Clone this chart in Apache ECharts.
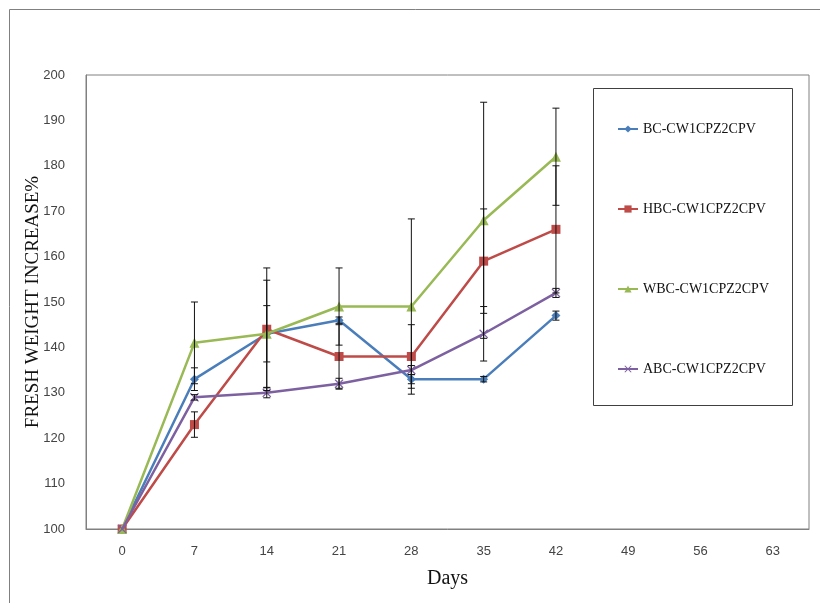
<!DOCTYPE html>
<html><head><meta charset="utf-8">
<script src="https://cdn.jsdelivr.net/npm/echarts@6/dist/echarts.min.js"></script>
<style>html,body{margin:0;padding:0;background:#fff}#c{width:820px;height:603px}</style>
</head><body><div id="c"></div>
<script>
const days = ['0','7','14','21','28','35','42','49','56','63'];
const yTicks = [100,110,120,130,140,150,160,170,180,190,200];
const seriesNames = ['BC-CW1CPZ2CPV','HBC-CW1CPZ2CPV','WBC-CW1CPZ2CPV','ABC-CW1CPZ2CPV'];
const bc  = [100,133,143,146,133,133,147];
const hbc = [100,123,144,138,138,159,166];
const wbc = [100,141,143,149,149,168,182];
const abc = [100,129,130,132,135,143,152];
const bcErr  = [0,2.5,6.2,0.7,1,0.6,1];
const hbcErr = [0,2.8,13.5,7,7,11.5,14];
const wbcErr = [0,9,11.8,8.5,19.3,26,10.7];
const abcErr = [0,0.6,1.1,1.2,1,6,1];

const colors = ['#4A7EBB','#BE4B48','#98B954','#7D60A0'];
const symbols = ['diamond','rect','triangle','path://M1,0 L5,4 L9,0 L10,1 L6,5 L10,9 L9,10 L5,6 L1,10 L0,9 L4,5 L0,1 Z'];
const symSizes = [9,9,10,9];
const vals = [bc,hbc,wbc,abc];
const errs = [bcErr,hbcErr,wbcErr,abcErr];

const chart = echarts.init(document.getElementById('c'));
const series = [];
vals.forEach((v,i)=>{
  series.push({
    name: seriesNames[i], type:'line', data: v,
    symbol: symbols[i], symbolSize: symSizes[i],
    lineStyle:{color:colors[i], width:2.5},
    itemStyle:{color:colors[i]},
    z: 2+i
  });
});
errs.forEach((e,i)=>{
  const d = vals[i].map((v,k)=>[k, v-e[k], v+e[k]]).filter((x,k)=>e[k]>0);
  series.push({
    type:'custom', data:d, z:10, silent:true,
    renderItem:(params, api)=>{
      const x = api.value(0);
      const lo = api.coord([x, api.value(1)]);
      const hi = api.coord([x, api.value(2)]);
      const w = 3.5;
      const st = {stroke:'#111', lineWidth:1};
      return {type:'group', children:[
        {type:'line', shape:{x1:lo[0],y1:lo[1],x2:hi[0],y2:hi[1]}, style:st},
        {type:'line', shape:{x1:lo[0]-w,y1:lo[1],x2:lo[0]+w,y2:lo[1]}, style:st},
        {type:'line', shape:{x1:hi[0]-w,y1:hi[1],x2:hi[0]+w,y2:hi[1]}, style:st}
      ]};
    },
    encode:{x:0,y:[1,2]}
  });
});

const labelFont = "'Liberation Sans Narrow','Liberation Sans',sans-serif";
chart.setOption({
  animation:false,
  backgroundColor:'#fff',
  grid:{left:86, top:75, width:723, height:454, show:true, borderColor:'#808080', borderWidth:1, backgroundColor:'transparent'},
  xAxis:{type:'category', data:days, boundaryGap:true,
    axisLine:{lineStyle:{color:'#808080'}}, axisTick:{show:false},
    axisLabel:{color:'#444', fontSize:13, fontFamily:labelFont, margin:16},
    name:'Days', nameLocation:'middle', nameGap:40, nameMoveOverlap:false,
    nameTextStyle:{fontFamily:"'Liberation Serif',serif", fontSize:20, color:'#111'}},
  yAxis:{type:'value', min:yTicks[0], max:yTicks[yTicks.length-1], interval:10,
    splitLine:{show:false}, axisTick:{show:false},
    axisLine:{show:true, lineStyle:{color:'#808080'}},
    axisLabel:{color:'#444', fontSize:13, fontFamily:labelFont, margin:21},
    name:'FRESH WEIGHT INCREASE%', nameLocation:'middle', nameGap:43, nameMoveOverlap:false,
    nameTextStyle:{fontFamily:"'Liberation Serif',serif", fontSize:19, color:'#111'}},
  legend:{orient:'vertical', left:612, top:117, itemGap:66, itemWidth:20, itemHeight:9,
    data:seriesNames,
    textStyle:{fontFamily:"'Liberation Serif',serif", fontSize:14, color:'#111'}},
  graphic:[
    {type:'rect', left:7, top:7, shape:{width:812, height:600}, style:{fill:'none', stroke:'#808080', lineWidth:1}, z:-1},
    {type:'rect', left:593, top:88, shape:{width:199, height:317}, style:{fill:'#fff', stroke:'#404040', lineWidth:1}, z:-1}
  ],
  series: series
});
</script></body></html>
